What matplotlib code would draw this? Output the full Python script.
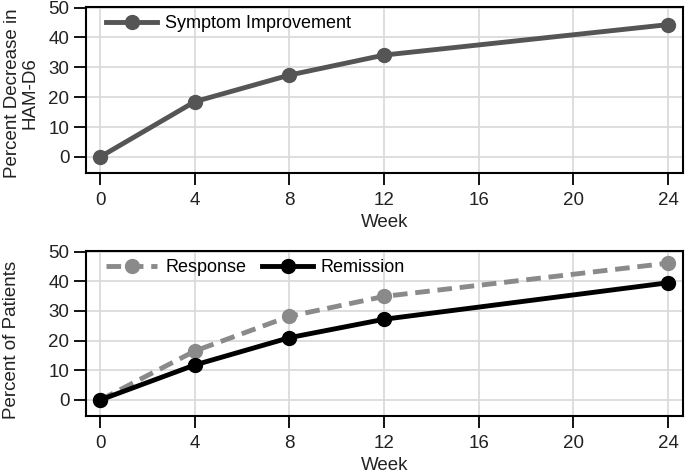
import matplotlib
matplotlib.use('Agg')
import matplotlib.pyplot as plt

plt.rcParams['font.family'] = ['Liberation Sans', 'DejaVu Sans']

weeks = [0, 4, 8, 12, 24]
symptom = [0, 18.5, 27.4, 34.1, 44.3]
response = [0, 16.5, 28.2, 34.9, 46.1]
remission = [0, 11.8, 21.0, 27.2, 39.5]
xticks = [0, 4, 8, 12, 16, 20, 24]
yticks = [0, 10, 20, 30, 40, 50]

fig = plt.figure(figsize=(6.85, 4.73), dpi=100)
ax1 = fig.add_axes([86/685, 1 - 173/473, (683-86)/685, (173-7)/473])
ax2 = fig.add_axes([86/685, 1 - 416/473, (683-86)/685, (416-251)/473])


def style(ax, ylabel, labelx, labely):
    ax.set_xlim(-0.6, 24.63)
    ax.set_ylim(-5.4, 50.2)
    ax.set_xticks(xticks)
    ax.set_yticks(yticks)
    ax.grid(True, color='#d8d8d8', linewidth=1.2)
    ax.set_axisbelow(True)
    for s in ax.spines.values():
        s.set_linewidth(1.5)
        s.set_color('black')
    ax.tick_params(labelsize=13.5, length=8.5, width=1.3, colors='black', labelcolor='#222222')
    ax.tick_params(axis='x', pad=5)
    ax.tick_params(axis='y', pad=3.5)
    ax.set_xlabel('Week', fontsize=13.5, color='#222222', labelpad=4)
    ax.set_ylabel(ylabel, fontsize=13.5, color='#222222', linespacing=1.0)
    ax.yaxis.set_label_coords(labelx, labely)


ax1.plot(weeks, symptom, color='#555555', lw=3.5, marker='o', ms=10,
         label='Symptom Improvement')
style(ax1, 'Percent Decrease in\nHAM-D6', -0.08, 0.48)
ax1.legend(loc='center left', bbox_to_anchor=(0.022, 0.9), borderaxespad=0,
           frameon=False, fontsize=13, handlelength=2.8, handletextpad=0.45)

ax2.plot(weeks, response, color='#8a8a8a', lw=3.5, ls=(0, (3, 1.6)), marker='o', ms=10,
         label='Response')
ax2.plot(weeks, remission, color='black', lw=3.5, marker='o', ms=10,
         label='Remission')
style(ax2, 'Percent of Patients', -0.11, 0.46)
ax2.legend(loc='center left', bbox_to_anchor=(0.022, 0.9), borderaxespad=0,
           frameon=False, fontsize=13, ncol=2, handlelength=2.8,
           handletextpad=0.45, columnspacing=0.9)

fig.savefig('out.png', dpi=100)
